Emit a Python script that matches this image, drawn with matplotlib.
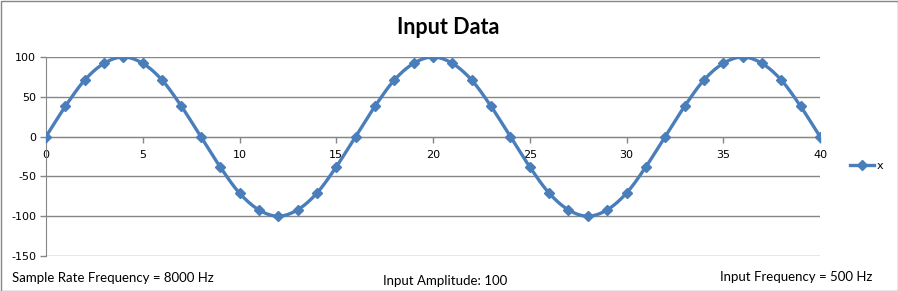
import matplotlib
matplotlib.use("Agg")
import matplotlib.pyplot as plt
from matplotlib.lines import Line2D
import numpy as np

plt.rcParams["axes.unicode_minus"] = False

# ---- data ----
sample_index = list(range(0, 41))
x_values = [0, 38, 71, 92, 100, 92, 71, 38,
            0, -38, -71, -92, -100, -92, -71, -38,
            0, 38, 71, 92, 100, 92, 71, 38,
            0, -38, -71, -92, -100, -92, -71, -38,
            0, 38, 71, 92, 100, 92, 71, 38,
            0]
x_ticks = [0, 5, 10, 15, 20, 25, 30, 35, 40]
y_ticks = [-150, -100, -50, 0, 50, 100]
title = "Input Data"
series_name = "x"
note_left = "Sample Rate Frequency = 8000 Hz"
note_mid = "Input Amplitude: 100"
note_right = "Input Frequency = 500 Hz"

LINE = "#4A7EBB"
GRID = "#868686"

def catmull_rom(xs, ys, n=20):
    xs = np.asarray(xs, float); ys = np.asarray(ys, float)
    px = np.concatenate([[2*xs[0]-xs[1]], xs, [2*xs[-1]-xs[-2]]])
    py = np.concatenate([[2*ys[0]-ys[1]], ys, [2*ys[-1]-ys[-2]]])
    ox, oy = [], []
    t = np.linspace(0, 1, n, endpoint=False)
    for i in range(1, len(px)-2):
        for P, out in ((px, ox), (py, oy)):
            p0, p1, p2, p3 = P[i-1], P[i], P[i+1], P[i+2]
            out.extend(0.5*((2*p1) + (-p0+p2)*t + (2*p0-5*p1+4*p2-p3)*t**2 + (-p0+3*p1-3*p2+p3)*t**3))
    ox.append(xs[-1]); oy.append(ys[-1])
    return np.array(ox), np.array(oy)

fig = plt.figure(figsize=(8.98, 2.91), dpi=100)
ax = fig.add_axes([46/898, 1-256/291, (820-46)/898, (256-57)/291])

sx, sy = catmull_rom(sample_index, x_values)
ax.plot(sx, sy, color=LINE, lw=2.4, solid_capstyle="round", zorder=3)
ax.plot(sample_index, x_values, ls="none", marker="D", ms=5.5, color=LINE,
        mec=LINE, zorder=4)

ax.set_xlim(0, 40)
ax.set_ylim(-150, 100)
ax.set_yticks(y_ticks)
ax.set_xticks(x_ticks)
ax.yaxis.grid(True, color=GRID, lw=1)
ax.set_axisbelow(True)
for s in ("top", "right"):
    ax.spines[s].set_visible(False)
ax.spines["left"].set_color(GRID)
ax.spines["bottom"].set_color(GRID)
ax.spines["bottom"].set_position(("data", 0))
ax.tick_params(axis="both", colors=GRID, length=4, width=1, labelsize=8,
               labelcolor="black", direction="out")
ax.tick_params(axis="x", pad=6)
ax.tick_params(axis="y", pad=3)
for lab in ax.get_xticklabels() + ax.get_yticklabels():
    lab.set_family("DejaVu Sans")

fig.text(448/898, 1-27/291, title, ha="center", va="center",
         fontsize=15.5, fontweight="bold", family="Lato")

handle = Line2D([0], [0], color=LINE, lw=2.4, marker="D", ms=5.5)
fig.legend([handle], [series_name], loc="center left",
           bbox_to_anchor=(840/898, 1-166/291), frameon=False,
           handlelength=2.2, handletextpad=0.2,
           prop={"family": "DejaVu Sans", "size": 8})

fig.text(12/898, 1-278/291, note_left, ha="left", va="center", fontsize=9.5, family="Lato")
fig.text(445/898, 1-281/291, note_mid, ha="center", va="center", fontsize=9.5, family="Lato")
fig.text(872/898, 1-277/291, note_right, ha="right", va="center", fontsize=9.5, family="Lato")

border = plt.Rectangle((0.5/898, 0.5/291), 1-1/898, 1-1/291, transform=fig.transFigure,
                       fill=False, ec=GRID, lw=1)
fig.patches.append(border)

fig.savefig("out.png", dpi=100)
